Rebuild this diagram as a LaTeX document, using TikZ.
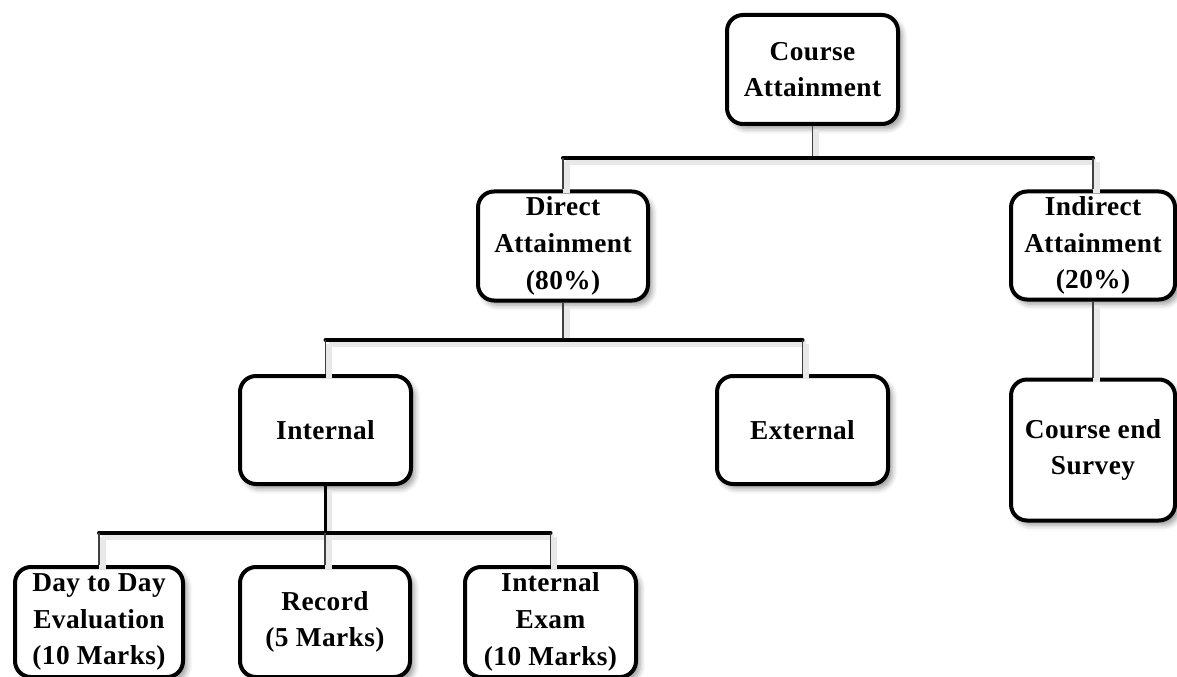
\documentclass[tikz,border=0pt]{standalone}
\usepackage{fontspec}
\setmainfont{Liberation Serif}
\usetikzlibrary{shadows.blur}
\begin{document}
\begin{tikzpicture}[x=0.75pt,y=-0.75pt,
  box/.style={draw=black, line width=3pt, rounded corners=12pt, fill=white,
    align=center, inner sep=0pt, minimum height=81.75pt,
    font=\fontsize{20.5}{27.5}\selectfont\bfseries\addfontfeature{LetterSpace=1.5},
    blur shadow={shadow xshift=3pt, shadow yshift=-3.5pt, shadow blur radius=4pt, shadow opacity=40}},
  lshadow/.style={preaction={draw=black!9, line width=5pt, transform canvas={shift={(2.5pt,-3pt)}}}},
  bar/.style={draw=black, line width=3pt, line cap=round, lshadow},
  link/.style={draw=black!75, line width=0.9pt, lshadow},
  thick link/.style={draw=black, line width=2.6pt, lshadow}]
\useasboundingbox (0,0) rectangle (1177,677);

% heights of the three horizontal bars
\coordinate (y1) at (0,158);
\coordinate (y2) at (0,340);
\coordinate (y3) at (0,533);

% level 1
\node[box, minimum width=128.25pt] (ca) at (812.5,69.5) {Course\\Attainment};
% level 2
\node[box, minimum width=127.5pt] (da) at (563,246) {Direct\\Attainment\\(80\%)};
\node[box, minimum width=123pt, minimum height=81pt] (ia) at (1093,245.5) {Indirect\\Attainment\\(20\%)};
% level 3
\node[box, minimum width=128.25pt, minimum height=81pt] (int) at (325.5,430) {Internal};
\node[box, minimum width=128.25pt, minimum height=81pt] (ext) at (802.5,430) {External};
\node[box, minimum width=123pt, minimum height=105.75pt] (ces) at (1093,450) {Course end\\Survey};
% level 4
\node[box, minimum width=126pt, minimum height=82.5pt] (dd) at (99,622) {Day to Day\\Evaluation\\(10 Marks)};
\node[box, minimum width=127.5pt, minimum height=82.5pt] (rec) at (325,622) {Record\\(5 Marks)};
\node[box, minimum width=128.25pt, minimum height=82.5pt] (ie) at (550.5,622) {Internal\\Exam\\(10 Marks)};

% connectors from Course Attainment
\draw[link] (ca.south) -- (ca.south |- y1);
\draw[bar] (da.north |- y1) -- (ia.north |- y1);
\draw[link] (da.north |- y1) -- (da.north);
\draw[link] (ia.north |- y1) -- (ia.north);

% connectors from Direct Attainment
\draw[link] (da.south) -- (da.south |- y2);
\draw[bar] (int.north |- y2) -- (ext.north |- y2);
\draw[link] (int.north |- y2) -- (int.north);
\draw[link] (ext.north |- y2) -- (ext.north);

% Indirect Attainment to survey
\draw[link] (ia.south) -- (ces.north);

% connectors from Internal
\draw[thick link] (int.south) -- (int.south |- y3);
\draw[bar] (dd.north |- y3) -- (ie.north |- y3);
\draw[link] (dd.north |- y3) -- (dd.north);
\draw[link] (rec.north |- y3) -- (rec.north);
\draw[link] (ie.north |- y3) -- (ie.north);
\end{tikzpicture}
\end{document}
